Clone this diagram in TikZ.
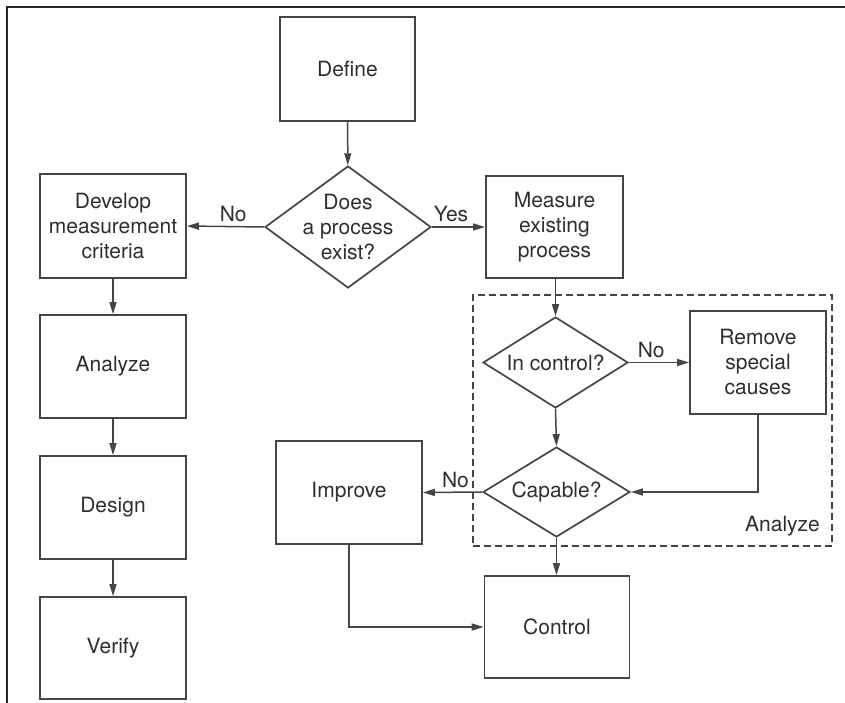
\documentclass[tikz,border=0pt]{standalone}
\usepackage{fontspec}
\setmainfont{TeX Gyre Heros}
\usetikzlibrary{arrows.meta,shapes.geometric}
\definecolor{ink}{HTML}{2E2E2E}
\definecolor{edge}{HTML}{454545}
\begin{document}
\begin{tikzpicture}[x=1pt,y=-1pt,
  every node/.style={font=\fontsize{21}{25}\selectfont, text=ink, align=center},
  stepbox/.style={draw=edge, line width=1.7pt, rectangle, inner sep=0pt},
  decision/.style={draw=edge, line width=1.7pt, diamond, inner sep=0pt},
  txt/.style={inner sep=0pt},
  flow/.style={draw=edge, line width=1.5pt, -{Triangle[length=12pt,width=7pt]}},
  tag/.style={inner sep=4pt, above}]
\useasboundingbox (0,0) rectangle (845,703);

% open frame on the left and top
\draw[line width=2pt, black!85] (7,703) -- (7,7) -- (845,7);

% dashed group
\node[draw=edge, line width=1.3pt, dash pattern=on 7pt off 4pt, rectangle,
      minimum width=359pt, minimum height=251pt, inner sep=0pt] (grp) at (652.5,420.5) {};
\node[txt, anchor=south east] (grplabel) at (820,536) {Analyze};

% process steps
\node[stepbox, minimum width=135pt, minimum height=104pt] (define) at (347.5,69) {Define};
\node[stepbox, minimum width=146pt, minimum height=104pt] (develop) at (113,226) {Develop\\measurement\\criteria};
\node[stepbox, minimum width=146pt, minimum height=103pt] (analyze) at (113,366.5) {Analyze};
\node[stepbox, minimum width=146pt, minimum height=103pt] (design) at (113,507.5) {Design};
\node[stepbox, minimum width=146pt, minimum height=102pt] (verify) at (113,648) {Verify};
\node[stepbox, minimum width=137pt, minimum height=102pt] (measure) at (554.5,227) {Measure\\existing\\process};
\node[stepbox, minimum width=136pt, minimum height=103pt] (remove) at (758,362.5) {Remove\\special\\causes};
\node[stepbox, minimum width=146pt, minimum height=103pt] (improve) at (349,492.5) {Improve};
\node[stepbox, minimum width=145pt, minimum height=102pt] (control) at (557,627) {Control};

% decisions
\node[decision, minimum width=166pt, minimum height=122pt] (exist) at (348,227) {};
\node[txt] (existtext) at (exist) {Does\\a process\\exist?};
\node[decision, minimum width=145pt, minimum height=91pt] (inctl) at (555.5,362.5) {};
\node[txt] (inctltext) at (inctl) {In control?};
\node[decision, minimum width=147pt, minimum height=90pt] (capable) at (556.5,492) {};
\node[txt] (capabletext) at (capable) {Capable?};

% connectors
\draw[flow] (define) -- (exist);
\draw[flow] (exist.west) -- node[tag, pos=0.4] (lno1) {No} (develop.east);
\draw[flow] (exist.east) -- node[tag, pos=0.36] (lyes) {Yes} (measure.west);
\draw[flow] (develop) -- (analyze);
\draw[flow] (analyze) -- (design);
\draw[flow] (design) -- (verify);
\draw[flow] (measure.south -| inctl.north) -- (inctl.north);
\draw[flow] (inctl.east) -- node[tag, pos=0.37] (lno2) {No} (remove.west);
\draw[flow] (inctl.south) -- (capable.north);
\draw[flow] (remove.south) |- (capable.east);
\draw[flow] (capable.west) -- node[tag, pos=0.45] (lno3) {No} (improve.east);
\draw[flow] (capable.south) -- (capable.south |- control.north);
\draw[flow] (improve.south) |- (control.west);
\end{tikzpicture}
\end{document}
